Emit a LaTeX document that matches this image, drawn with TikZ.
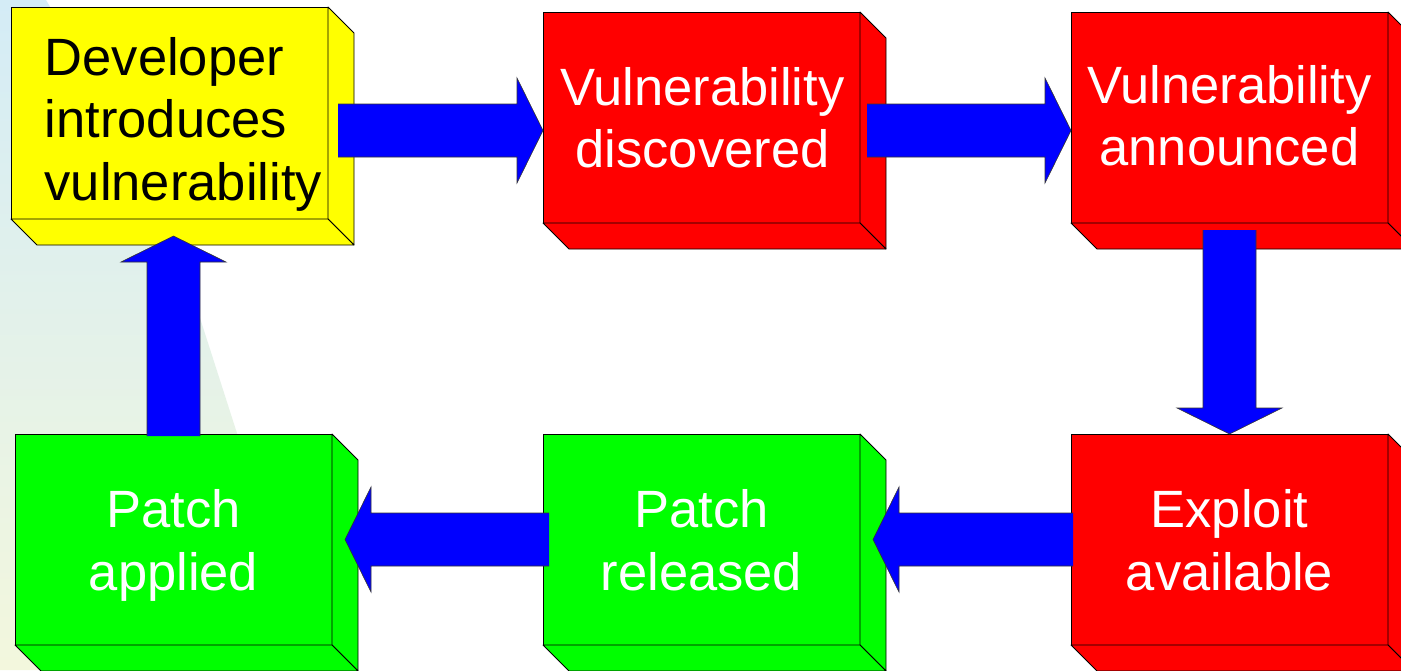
\documentclass[tikz,border=0pt]{standalone}
\usepackage{fontspec}
\setmainfont{Liberation Sans}
\usetikzlibrary{calc}

\definecolor{bgtop}{RGB}{212,236,246}
\definecolor{bgmid}{RGB}{222,240,236}
\definecolor{bgbot}{RGB}{243,247,221}
\definecolor{boxyellow}{RGB}{255,255,0}
\definecolor{boxred}{RGB}{255,0,0}
\definecolor{boxgreen}{RGB}{0,255,0}
\definecolor{flowblue}{RGB}{0,0,255}

\tikzset{
  stagebox/.style={draw=black, line width=0.8pt, minimum width=317pt,
    minimum height=211pt, inner sep=0pt, outer sep=0pt, anchor=north west},
  stageface/.style={draw=black, line width=0.8pt, line join=round},
  stagetext/.style={inner sep=0pt, align=center, anchor=north,
    font=\fontsize{52.5}{62.5}\selectfont},
  flowfill/.style={fill=flowblue},
  flowedge/.style={draw=black!80, line width=0.6pt, line join=miter},
}

% side and bottom faces of an extruded box
\newcommand\extrude[2]{%
  \path[stageface, fill=#2] (#1.north east) -- ++(26,26)
    -- ($(#1.south east)+(26,26)$) -- (#1.south east) -- cycle;
  \path[stageface, fill=#2] (#1.south west) -- ++(26,26)
    -- ($(#1.south east)+(26,26)$) -- (#1.south east) -- cycle;
}

% broad block arrow from a tail point to a tip point
\newcommand\blockarrow[2]{%
  \coordinate (ba-s) at (#1);
  \coordinate (ba-t) at (#2);
  \coordinate (ba-h) at ($(ba-t)!26pt!(ba-s)$);
  \fill[flowfill] ($(ba-s)!26.5pt!90:(ba-t)$) -- ($(ba-h)!26.5pt!90:(ba-t)$)
    -- ($(ba-h)!52.5pt!90:(ba-t)$) -- (ba-t) -- ($(ba-h)!52.5pt!-90:(ba-t)$)
    -- ($(ba-h)!26.5pt!-90:(ba-t)$) -- ($(ba-s)!26.5pt!-90:(ba-t)$) -- cycle;
  \draw[flowedge] ($(ba-s)!26.5pt!90:(ba-t)$) -- ($(ba-h)!26.5pt!90:(ba-t)$)
    -- ($(ba-h)!52.5pt!90:(ba-t)$) -- (ba-t) -- ($(ba-h)!52.5pt!-90:(ba-t)$)
    -- ($(ba-h)!26.5pt!-90:(ba-t)$) -- ($(ba-s)!26.5pt!-90:(ba-t)$);
}

\begin{document}
\begin{tikzpicture}[x=1pt, y=-1pt]
  \useasboundingbox (0,0) rectangle (1401,670);
  \clip (0,0) rectangle (1401,670);
  \fill[white] (0,0) rectangle (1401,670);

  % slide background wash on the left
  \shade[top color=bgtop, middle color=bgmid, bottom color=bgbot]
    (0,0) -- (46,0) -- (70,40) -- (200,318) -- (313,670) -- (0,670) -- cycle;

  % stages
  \node[stagebox, fill=boxyellow, minimum height=212pt] (dev) at (11,7) {};
  \node[stagebox, fill=boxred]   (disc) at (543,12) {};
  \node[stagebox, fill=boxred]   (ann)  at (1071,12) {};
  \node[stagebox, fill=boxred]   (expl) at (1071,434) {};
  \node[stagebox, fill=boxgreen] (rel)  at (543,434) {};
  \node[stagebox, fill=boxgreen] (app)  at (15,434) {};

  \extrude{dev}{boxyellow}
  \extrude{disc}{boxred}
  \extrude{ann}{boxred}
  \extrude{expl}{boxred}
  \extrude{rel}{boxgreen}
  \extrude{app}{boxgreen}

  % captions
  \node[stagetext, anchor=north west, align=left, text=black] (dev-t)
    at ($(dev.north west)+(33.5,24.25)$) {\strut Developer\\introduces\\vulnerability\strut};
  \node[stagetext, text=white] (disc-t) at ($(disc.north)+(1,49.5)$)
    {\strut Vulnerability\\discovered\strut};
  \node[stagetext, text=white] (ann-t) at ($(ann.north)+(0,47.5)$)
    {\strut Vulnerability\\announced\strut};
  \node[stagetext, text=white] (expl-t) at ($(expl.north)+(0,50)$)
    {\strut Exploit\\available\strut};
  \node[stagetext, text=white] (rel-t) at ($(rel.north)+(0,50)$)
    {\strut Patch\\released\strut};
  \node[stagetext, text=white] (app-t) at ($(app.north)+(0,50)$)
    {\strut Patch\\applied\strut};

  % flow between stages
  \blockarrow{$(dev.east)+(10,17.5)$}{$(disc.west)+(0,13)$}
  \blockarrow{$(disc.east)+(7,13)$}{$(ann.west)+(0,13)$}
  \blockarrow{$(ann.south)+(0,7)$}{expl.north}
  \blockarrow{$(expl.west)+(2,0)$}{$(rel.east)+(13,0)$}
  \blockarrow{$(rel.west)+(6,0)$}{$(app.east)+(13,0)$}
  \blockarrow{$(app.north)+(0,2)$}{$(app.north |- dev.south)+(0,17)$}
\end{tikzpicture}
\end{document}
